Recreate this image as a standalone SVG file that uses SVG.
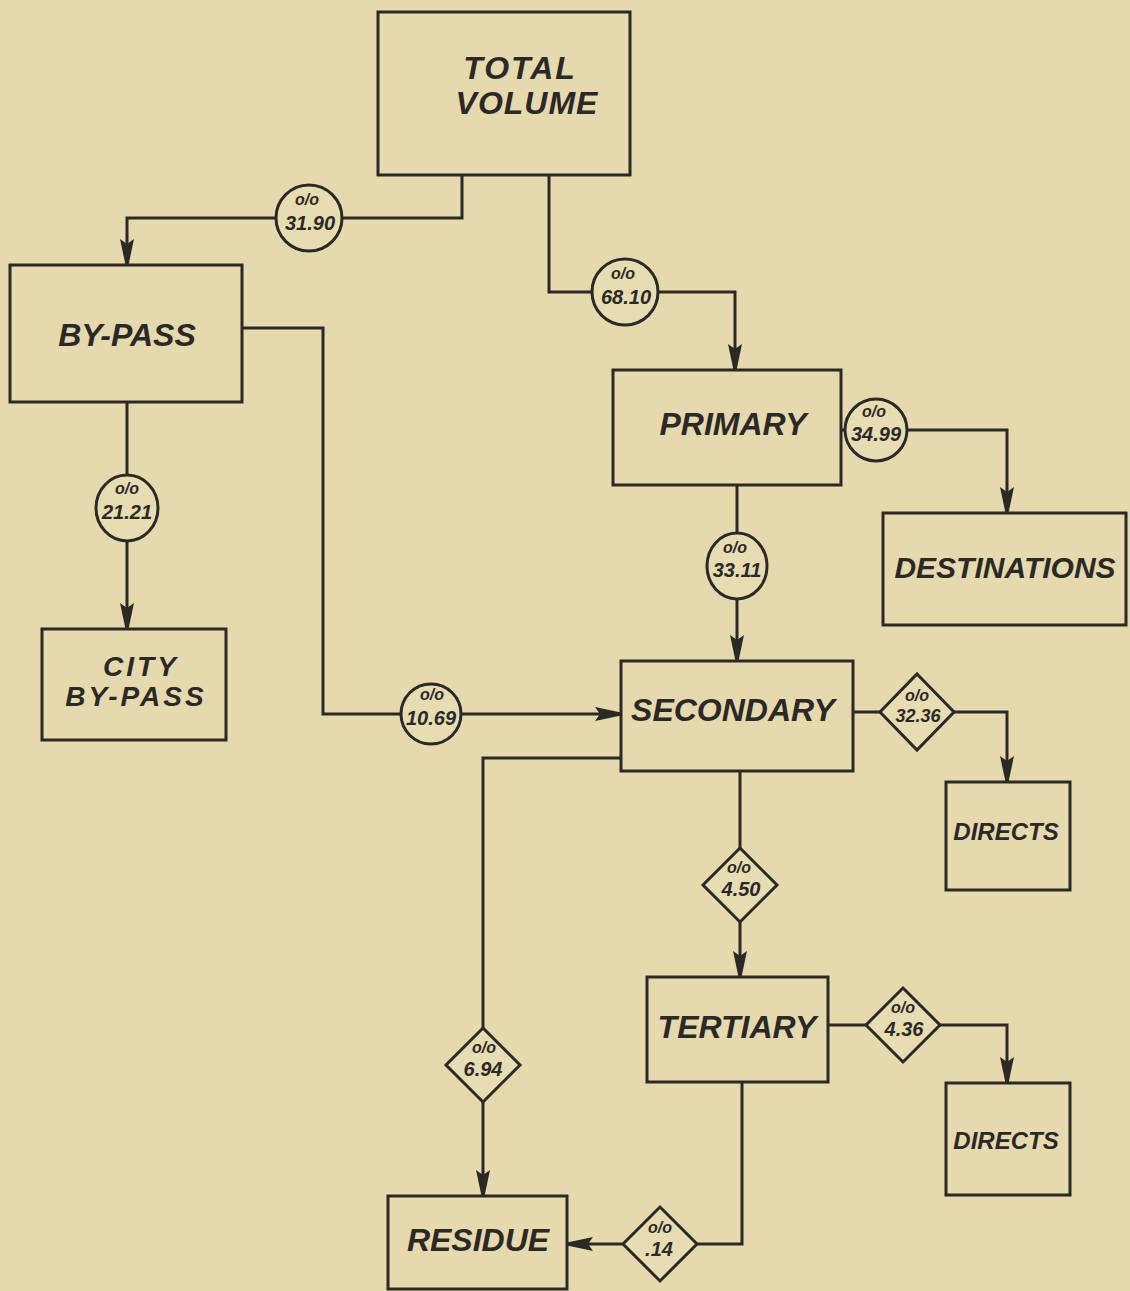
<svg xmlns="http://www.w3.org/2000/svg" width="1130" height="1291" viewBox="0 0 1130 1291">
<defs>
<marker id="arr" markerWidth="26" markerHeight="14" refX="25" refY="7" orient="auto" markerUnits="userSpaceOnUse" viewBox="0 0 26 14">
<path d="M0,0 L5,7 L0,14 L26,8.5 L26,5.5 Z" fill="#2b2926"/>
</marker>
<style>
.box{fill:none;stroke:#2b2926;stroke-width:3}
.ln{fill:none;stroke:#2b2926;stroke-width:3}
.lb{fill:#2b2926;font-family:"Liberation Sans",Arial,sans-serif;font-style:italic;font-weight:bold;text-anchor:middle}
.t{font-size:32px}
.pc{font-size:16px}
.nm{font-size:20px}
.sh{fill:#e8dcb2;stroke:#2b2926;stroke-width:3}
</style>
</defs>
<rect width="1130" height="1291" fill="#e6d9ae"/>
<g id="connectors">
<path class="ln" d="M462,175 V218 H127 V264" marker-end="url(#arr)"/>
<path class="ln" d="M549,175 V292 H735 V369" marker-end="url(#arr)"/>
<path class="ln" d="M242,328 H323 V714 H620" marker-end="url(#arr)"/>
<path class="ln" d="M127,402 V628" marker-end="url(#arr)"/>
<path class="ln" d="M841,430 H1007 V512" marker-end="url(#arr)"/>
<path class="ln" d="M737,485 V660" marker-end="url(#arr)"/>
<path class="ln" d="M853,712 H1007 V781" marker-end="url(#arr)"/>
<path class="ln" d="M740,771 V976" marker-end="url(#arr)"/>
<path class="ln" d="M621,758 H483 V1195" marker-end="url(#arr)"/>
<path class="ln" d="M828,1025 H1007 V1082" marker-end="url(#arr)"/>
<path class="ln" d="M742,1082 V1244 H568" marker-end="url(#arr)"/>
</g>
<g id="n-total"><rect class="box" x="378" y="12" width="252" height="163"/><text class="lb t" x="520" y="79" letter-spacing="2">TOTAL</text><text class="lb t" x="527" y="114" letter-spacing="1">VOLUME</text></g>
<g id="n-bypass"><rect class="box" x="10" y="265" width="232" height="137"/><text class="lb t" x="127" y="346">BY-PASS</text></g>
<g id="n-primary"><rect class="box" x="613" y="370" width="228" height="115"/><text class="lb t" x="733" y="435">PRIMARY</text></g>
<g id="n-dest"><rect class="box" x="883" y="513" width="243" height="112"/><text class="lb" style="font-size:30px" x="1005" y="578">DESTINATIONS</text></g>
<g id="n-city"><rect class="box" x="42" y="629" width="184" height="111"/><text class="lb" style="font-size:28px" x="141" y="676" letter-spacing="3">CITY</text><text class="lb" style="font-size:28px" x="136" y="706" letter-spacing="3">BY-PASS</text></g>
<g id="n-secondary"><rect class="box" x="621" y="661" width="232" height="110"/><text class="lb t" x="733" y="721">SECONDARY</text></g>
<g id="n-directs1"><rect class="box" x="946" y="782" width="124" height="108"/><text class="lb" style="font-size:24px" x="1006" y="840">DIRECTS</text></g>
<g id="n-tertiary"><rect class="box" x="647" y="977" width="181" height="105"/><text class="lb t" x="737" y="1038">TERTIARY</text></g>
<g id="n-directs2"><rect class="box" x="946" y="1083" width="124" height="112"/><text class="lb" style="font-size:24px" x="1006" y="1149">DIRECTS</text></g>
<g id="n-residue"><rect class="box" x="388" y="1196" width="179" height="93"/><text class="lb t" x="478" y="1251">RESIDUE</text></g>
<g id="p-3190"><circle class="sh" cx="309" cy="218" r="33"/><text class="lb pc" x="307" y="205">o/o</text><text class="lb nm" x="310" y="230">31.90</text></g>
<g id="p-6810"><circle class="sh" cx="625" cy="292" r="33"/><text class="lb pc" x="623" y="279">o/o</text><text class="lb nm" x="626" y="304">68.10</text></g>
<g id="p-2121"><ellipse class="sh" cx="127" cy="508" rx="31" ry="33"/><text class="lb pc" x="127" y="494">o/o</text><text class="lb nm" x="127" y="519">21.21</text></g>
<g id="p-3499"><circle class="sh" cx="876" cy="430" r="31"/><text class="lb pc" x="874" y="417">o/o</text><text class="lb nm" x="876" y="441">34.99</text></g>
<g id="p-3311"><ellipse class="sh" cx="737" cy="566" rx="30" ry="33"/><text class="lb pc" x="735" y="553">o/o</text><text class="lb nm" x="737" y="577">33.11</text></g>
<g id="p-1069"><circle class="sh" cx="431" cy="714" r="30"/><text class="lb pc" x="432" y="700">o/o</text><text class="lb nm" x="431" y="725">10.69</text></g>
<g id="p-3236"><path class="sh" d="M917,674 L954,712 L917,750 L880,712 Z"/><text class="lb pc" x="917" y="701">o/o</text><text class="lb" style="font-size:18px" x="918" y="722">32.36</text></g>
<g id="p-450"><path class="sh" d="M740,848 L777,885 L740,922 L703,885 Z"/><text class="lb pc" x="739" y="873">o/o</text><text class="lb nm" x="741" y="896">4.50</text></g>
<g id="p-694"><path class="sh" d="M483,1028 L520,1065 L483,1102 L446,1065 Z"/><text class="lb pc" x="484" y="1053">o/o</text><text class="lb nm" x="483" y="1076">6.94</text></g>
<g id="p-436"><path class="sh" d="M903,988 L940,1025 L903,1062 L866,1025 Z"/><text class="lb pc" x="903" y="1013">o/o</text><text class="lb nm" x="904" y="1036">4.36</text></g>
<g id="p-14"><path class="sh" d="M660,1207 L697,1244 L660,1281 L623,1244 Z"/><text class="lb pc" x="660" y="1233">o/o</text><text class="lb nm" x="659" y="1256">.14</text></g>
</svg>
